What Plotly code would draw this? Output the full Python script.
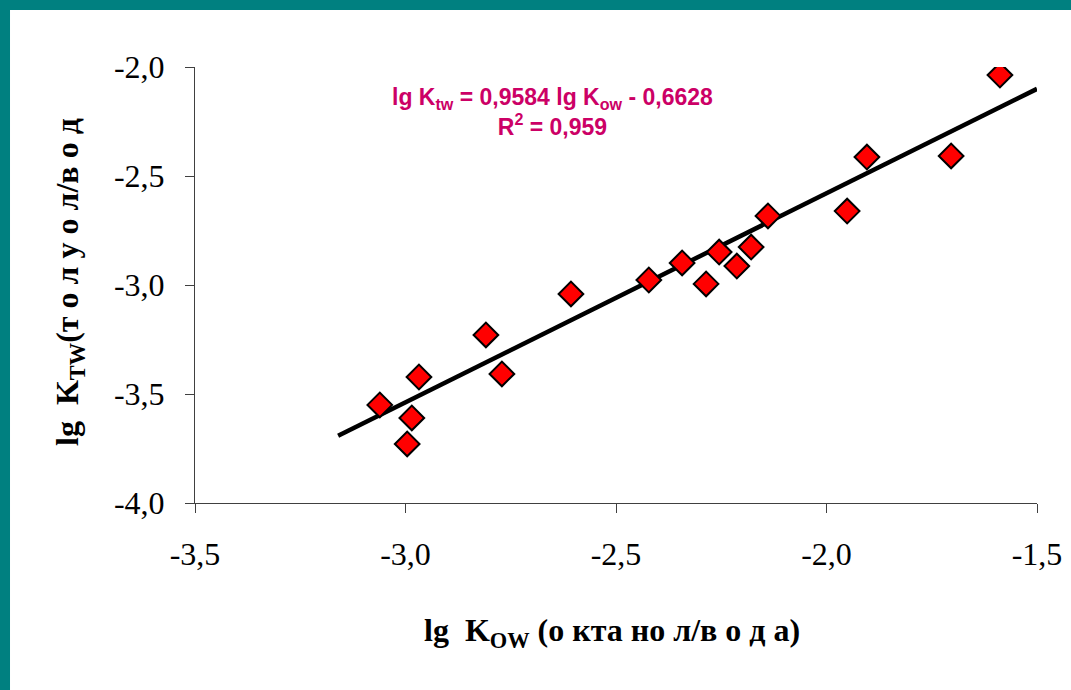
import plotly.graph_objects as go

# lg Kow (octanol/water) and lg Ktw (toluene/water) for the studied compounds
lg_kow = [-3.061, -2.996, -2.985, -2.968, -2.809, -2.771, -2.607, -2.422, -2.343,
          -2.286, -2.255, -2.213, -2.179, -2.139, -1.951, -1.904, -1.704, -1.588]
lg_ktw = [-3.550, -3.729, -3.610, -3.422, -3.229, -3.408, -3.041, -2.977, -2.899,
          -2.995, -2.849, -2.913, -2.826, -2.683, -2.661, -2.413, -2.408, -2.037]

# linear fit reported on the chart
slope = 0.9584
intercept = -0.6628
r2_text = "0,959"
fit_x = [-3.16, -1.5]
fit_y = [slope * v + intercept for v in fit_x]

x_ticks = [-3.5, -3.0, -2.5, -2.0, -1.5]
x_tick_text = ["-3,5", "-3,0", "-2,5", "-2,0", "-1,5"]
y_ticks = [-4.0, -3.5, -3.0, -2.5, -2.0]
y_tick_text = ["-4,0", "-3,5", "-3,0", "-2,5", "-2,0"]

SERIF = "Times New Roman, Liberation Serif, serif"
SANS = "Liberation Sans, Arial, sans-serif"
TEAL = "#008080"

fig = go.Figure()

fig.add_trace(go.Scatter(
    x=fit_x, y=fit_y, mode="lines",
    line=dict(color="black", width=4.5),
    hoverinfo="skip", showlegend=False,
))

fig.add_trace(go.Scatter(
    x=lg_kow, y=lg_ktw, mode="markers",
    marker=dict(symbol="diamond", size=19, color="#FF0000",
                line=dict(color="black", width=2)),
    showlegend=False,
))


def axis_style(vals, text, rng):
    return dict(
        range=rng, tickmode="array", tickvals=vals, ticktext=text,
        showgrid=False, zeroline=False, showline=True,
        linecolor="#404040", linewidth=1,
        ticks="outside", ticklen=9, tickcolor="#404040", tickwidth=1,
        ticklabelstandoff=14,
        tickfont=dict(family=SERIF, size=32, color="black"),
    )


annotations = [
    dict(text="<b>lg  K<sub>OW</sub> (о кта но л/в о д а)</b>",
         x=0.495, y=-0.296, xref="paper", yref="paper",
         xanchor="center", yanchor="middle", showarrow=False,
         font=dict(family=SERIF, size=32, color="black")),
    dict(text="<b>lg  K<sub>TW</sub>(т о л у о л/в о д</b>",
         x=-0.1485, y=0.507, xref="paper", yref="paper", textangle=-90,
         xanchor="center", yanchor="middle", showarrow=False,
         font=dict(family=SERIF, size=32, color="black")),
    dict(text=(f"<b>lg K<sub>tw</sub> = 0,9584 lg K<sub>ow</sub> - 0,6628"
               f"<br>R<sup>2</sup> = {r2_text}</b>"),
         x=0.425, y=0.897, xref="paper", yref="paper",
         xanchor="center", yanchor="middle", showarrow=False, align="center",
         font=dict(family=SANS, size=23, color="#CC0066")),
]

# teal frame strips along the left and top edges of the page
shapes = [
    dict(type="rect", xref="paper", yref="paper",
         x0=-0.2316, x1=-0.2197, y0=-0.429, y1=1.154,
         fillcolor=TEAL, line=dict(width=0), layer="below"),
    dict(type="rect", xref="paper", yref="paper",
         x0=-0.2316, x1=1.0404, y0=1.1307, y1=1.154,
         fillcolor=TEAL, line=dict(width=0), layer="below"),
]

fig.update_layout(
    template="none",
    width=1071, height=690,
    margin=dict(l=195, r=34, t=67, b=187),
    paper_bgcolor="white", plot_bgcolor="white",
    font=dict(family=SERIF, size=32, color="black"),
    xaxis=axis_style(x_ticks, x_tick_text, [-3.5, -1.5]),
    yaxis=axis_style(y_ticks, y_tick_text, [-4.0, -2.0]),
    annotations=annotations, shapes=shapes,
    showlegend=False,
)

fig.write_html("out.html")
